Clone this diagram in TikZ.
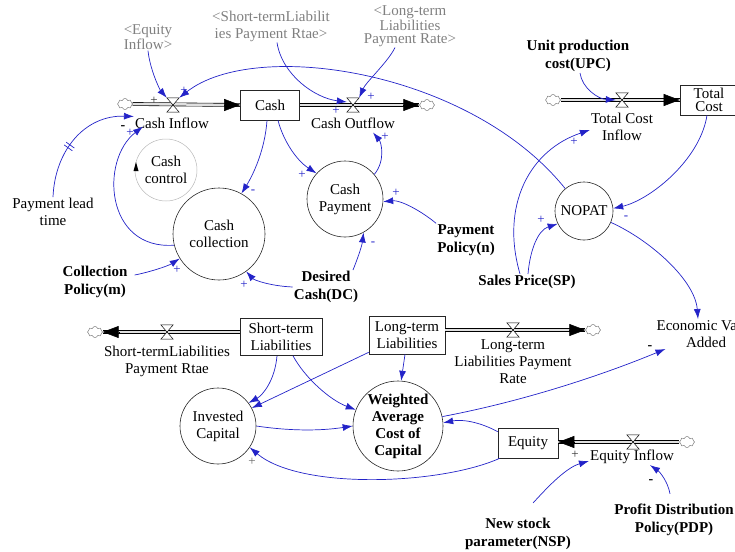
\documentclass[tikz,border=0pt]{standalone}
\usepackage{fontspec}
\setmainfont{Liberation Serif}
\usetikzlibrary{arrows.meta,shapes.symbols,decorations.markings,calc}
\definecolor{linkblue}{RGB}{35,35,200}
\definecolor{shadowgray}{RGB}{128,128,128}
\begin{document}
\begin{tikzpicture}[x=1pt,y=1pt,
  every node/.style={font=\fontsize{15}{17}\selectfont, inner sep=1pt},
  lbl/.style={align=center},
  boldtxt/.style={align=center, font=\fontsize{15}{18}\selectfont\bfseries},
  shadowtxt/.style={align=center, text=shadowgray},
  stock/.style={draw=black!85, line width=0.6pt, rectangle, align=center, inner sep=0pt},
  aux/.style={draw=black!85, line width=0.6pt, circle, align=center, inner sep=0pt},
  valve/.style={inner sep=0pt, minimum width=12pt, minimum height=14pt},
  valvebody/.style={draw=black, line width=0.5pt, fill=white},
  cloudy/.style={cloud, cloud puffs=8, aspect=1.3, draw=gray!80!black, fill=white, inner sep=0pt, minimum width=15pt, minimum height=11pt},
  pipe/.style={draw=black, line width=0.6pt, double=gray!25, double distance=2.5pt},
  pipetip/.style={-{Triangle[length=16pt,width=12pt]}, line width=0.5pt, draw=black},
  link/.style={draw=linkblue, line width=0.7pt, -{Latex[length=10pt,width=7pt]}},
  delaymark/.style={postaction={decorate, decoration={markings, mark=at position 0.42 with {\draw[linkblue, line width=0.7pt, -] (-1.7pt,-5pt) -- (-1.7pt,5pt) (1.7pt,-5pt) -- (1.7pt,5pt);}}}},
  pol/.style={font=\fontsize{13}{13}\selectfont, text=linkblue, inner sep=0pt},
  polk/.style={font=\fontsize{14}{14}\selectfont\bfseries, text=black, inner sep=0pt},
  polb/.style={font=\fontsize{13}{13}\selectfont, text=black!80, inner sep=0pt},
  polg/.style={font=\fontsize{13}{13}\selectfont, text=gray!80!black, inner sep=0pt},
  ]
\useasboundingbox (0,0) rectangle (735,-551);

% ---- stocks
\node[stock, minimum width=59pt, minimum height=30pt] (cash) at (270,-105) {Cash};
\node[stock, minimum width=58pt, minimum height=30pt, font=\fontsize{15}{13}\selectfont] (tc) at (709,-100) {Total\\Cost};
\node[stock, minimum width=82pt, minimum height=37pt] (stl) at (281,-337) {Short-term\\Liabilities};
\node[stock, minimum width=76pt, minimum height=38pt] (ltl) at (407,-335) {Long-term\\Liabilities};
\node[stock, minimum width=60pt, minimum height=30pt] (eq) at (528,-443) {Equity};

% ---- auxiliaries (circles)
\node[aux, minimum size=92pt] (cc) at (219,-234) {Cash\\collection};
\node[aux, minimum size=76pt] (cp) at (345,-199) {Cash\\Payment};
\node[aux, minimum size=58pt] (nopat) at (584,-211) {NOPAT};
\node[aux, minimum size=76pt] (ic) at (218,-426) {Invested\\Capital};
\node[aux, minimum size=90pt, font=\fontsize{15}{17}\selectfont\bfseries] (wacc) at (398,-426) {Weighted\\Average\\Cost of\\Capital};

% ---- loop
\node[draw=gray!55, line width=0.5pt, circle, minimum size=62pt, align=center, inner sep=0pt] (loop) at (166,-170) {Cash\\control};
\fill[black] (133.5,-171) -- (138.5,-171) -- (136,-162) -- cycle;

% ---- valves
\node[valve] (vci) at (173,-105) {};
\node[valve] (vco) at (353,-105) {};
\node[valve] (vtc) at (622,-100) {};
\node[valve] (vst) at (167,-332) {};
\node[valve] (vlt) at (513,-330) {};
\node[valve] (veq) at (633,-442) {};

% ---- clouds
\node[cloudy] (c1) at (125,-104) {};
\node[cloudy] (c2) at (427,-105) {};
\node[cloudy] (c3) at (553,-100) {};
\node[cloudy] (c4) at (95,-332) {};
\node[cloudy] (c5) at (593,-330) {};
\node[cloudy] (c6) at (687,-442) {};

% ---- pipes
\draw[pipe] (c1.east) -- (cash.west);
\draw[pipetip] ([xshift=-16pt]cash.west) -- (cash.west);
\draw[pipe] (cash.east) -- (c2.west);
\draw[pipetip] ([xshift=-16pt]c2.west) -- (c2.west);
\draw[pipe] (c3.east) -- (tc.west);
\draw[pipetip] ([xshift=-16pt]tc.west) -- (tc.west);
\draw[pipe] (stl.west |- vst.center) -- (c4.east);
\draw[pipetip] ([xshift=16pt]c4.east) -- (c4.east);
\draw[pipe] (ltl.east |- vlt.center) -- (c5.west);
\draw[pipetip] ([xshift=-16pt]c5.west) -- (c5.west);
\draw[pipe] (c6.west) -- (eq.east |- veq.center);
\draw[pipetip] ([xshift=16pt]eq.east |- veq.center) -- (eq.east |- veq.center);
\foreach \vn in {vci,vco,vtc,vst,vlt,veq}
  \draw[valvebody] (\vn.north west) -- (\vn.north east) -- (\vn.south west) -- (\vn.south east) -- cycle;

% ---- flow labels
\node[lbl] (lci) at (172,-123) {Cash Inflow};
\node[lbl] (lco) at (353,-123) {Cash Outflow};
\node[lbl] (ltci) at (622,-127) {Total Cost\\Inflow};
\node[lbl] (lst) at (167,-361) {Short-termLiabilities\\Payment Rtae};
\node[lbl] (llt) at (513,-362) {Long-term\\Liabilities Payment\\Rate};
\node[lbl] (leq) at (632,-457) {Equity Inflow};

% ---- other variables
\node[shadowtxt, font=\fontsize{15}{13}\selectfont] (eqin) at (148,-37) {<Equity\\Inflow>};
\node[shadowtxt] (stp) at (271,-26) {<Short-termLiabilit\\ies Payment Rtae>};
\node[shadowtxt, font=\fontsize{15}{13}\selectfont] (ltp) at (410,-26) {<Long-term\\Liabilities\\Payment Rate>};
\node[boldtxt] (upc) at (578,-56) {Unit production\\cost(UPC)};
\node[lbl] (plt) at (53,-212) {Payment lead\\time};
\node[boldtxt] (colp) at (95,-282) {Collection\\Policy(m)};
\node[boldtxt] (dc) at (326,-287) {Desired\\Cash(DC)};
\node[boldtxt] (pp) at (466,-240) {Payment\\Policy(n)};
\node[boldtxt] (sp) at (527,-282) {Sales Price(SP)};
\node[lbl] (eva) at (706,-334) {Economic Value\\Added};
\node[boldtxt] (nsp) at (518,-534) {New stock\\parameter(NSP)};
\node[boldtxt] (pdp) at (674,-520) {Profit Distribution\\Policy(PDP)};

% ---- links
\draw[link] (eqin.south) .. controls (150,-70) and (160,-90) .. (vci.north west);
\draw[link] (nopat.130) .. controls (470,-70) and (255,-38) .. (vci.north east);
\draw[link, delaymark] (plt.north) .. controls (55,-150) and (85,-115) .. (lci.north west);
\draw[link] (cc.194) .. controls (105,-250) and (100,-160) .. ([xshift=9pt,yshift=3pt]lci.south west);
\draw[link] ([xshift=-3pt]cash.south) .. controls (265,-150) and (253,-175) .. (cc.61);
\draw[link] ([xshift=8pt]cash.south) .. controls (283,-140) and (296,-160) .. (cp.138);
\draw[link] (cp.40) .. controls (386,-160) and (381,-142) .. ([xshift=20pt,yshift=-3pt]lco.south);
\draw[link] ([xshift=6pt]stp.south) .. controls (282,-75) and (315,-98) .. ([yshift=3pt]vco.west);
\draw[link] ([xshift=-15pt]ltp.south) .. controls (388,-62) and (366,-82) .. (vco.north east);
\draw[link] ([xshift=2pt]upc.south) .. controls (582,-88) and (598,-99) .. (vtc.west);
\draw[link] ([xshift=-2pt]tc.south) .. controls (700,-160) and (650,-200) .. (nopat.5);
\draw[link] ([xshift=1pt]sp.north) .. controls (530,-250) and (538,-230) .. (nopat.206);
\draw[link] ([xshift=-7pt]sp.north) .. controls (500,-205) and (530,-150) .. ([yshift=-3pt]ltci.west);
\draw[link] (nopat.-23) .. controls (650,-240) and (695,-280) .. ([xshift=-8pt]eva.north);
\draw[link] (pp.north west) .. controls (420,-210) and (400,-200) .. (cp.-4);
\draw[link] ([xshift=27pt]dc.north) .. controls (359,-255) and (362,-245) .. (cp.-61);
\draw[link] (dc.west) .. controls (270,-286) and (254,-280) .. (cc.-54);
\draw[link] ([shift={(6pt,7pt)}]colp.east) .. controls (150,-272) and (168,-266) .. (cc.212);
\draw[link] ([xshift=-4pt]stl.south) .. controls (275,-380) and (263,-395) .. (ic.37);
\draw[link] ([yshift=2pt]ltl.south west) -- (ic.28);
\draw[link] ([xshift=12pt]stl.south) .. controls (305,-378) and (330,-400) .. (wacc.159);
\draw[link] ([xshift=-2pt]ltl.south) -- (wacc.86);
\draw[link] (ic.east) .. controls (290,-431) and (320,-431) .. (wacc.west);
\draw[link] ([yshift=-4pt]eq.north west) .. controls (480,-422) and (462,-419) .. (wacc.4);
\draw[link] ([xshift=2pt]eq.south west) .. controls (440,-485) and (300,-490) .. (ic.-34);
\draw[link] (wacc.12) .. controls (530,-400) and (610,-372) .. ([xshift=10pt]eva.south west);
\draw[link] ([shift={(15pt,14pt)}]nsp.north) .. controls (545,-490) and (565,-468) .. ([yshift=-4pt]leq.west);
\draw[link] ([shift={(-4pt,9pt)}]pdp.north) .. controls (668,-482) and (660,-472) .. ([xshift=18pt]leq.south);

% ---- polarities
\node[polb] (s1) at (154,-101) {+};
\node[pol] (s2) at (184,-91) {+};
\node[polk] (s3) at (123,-128) {-};
\node[pol] (s4) at (130,-133) {+};
\node[pol] (s5) at (253,-192) {-};
\node[pol] (s6) at (302,-175) {+};
\node[pol] (s7) at (385,-137) {+};
\node[pol] (s8) at (336,-111) {+};
\node[pol] (s9) at (371,-97) {+};
\node[pol] (s10) at (396,-193) {+};
\node[pol] (s11) at (373,-244) {-};
\node[pol] (s12) at (244,-285) {+};
\node[pol] (s13) at (177,-270) {+};
\node[pol] (s14) at (541,-220) {+};
\node[pol] (s15) at (626,-218) {-};
\node[pol] (s16) at (574,-142) {+};
\node[polg] (s17) at (252,-462) {+};
\node[polb] (s18) at (575,-455) {+};
\node[polk] (s19) at (650,-348) {-};
\node[polk] (s20) at (651,-482) {-};
\end{tikzpicture}
\end{document}
